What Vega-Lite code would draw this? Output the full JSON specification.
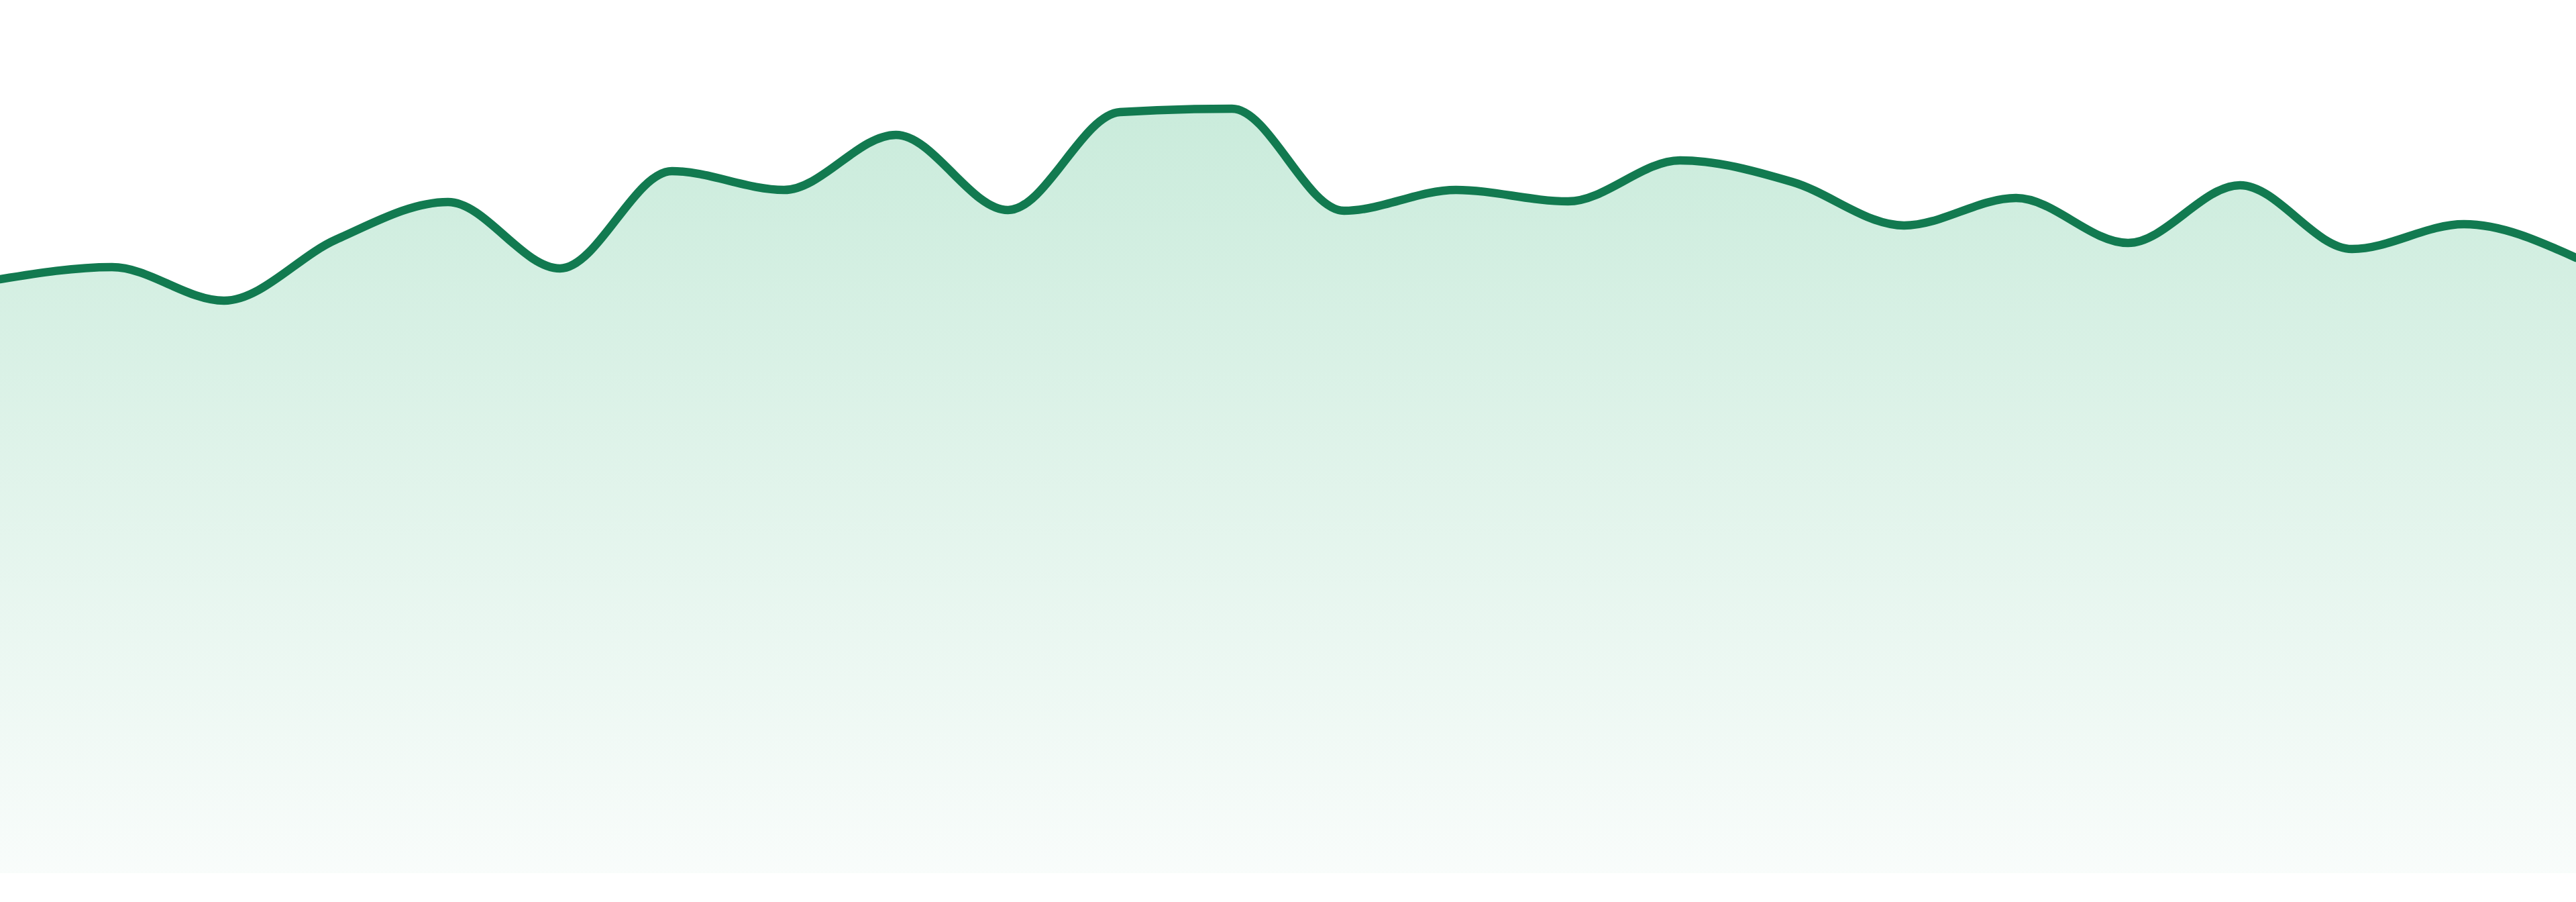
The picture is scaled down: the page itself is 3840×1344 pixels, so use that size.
{
  "$schema": "https://vega.github.io/schema/vega-lite/v6.json",
  "width": 3840,
  "height": 1344,
  "autosize": {"type": "none"},
  "padding": 0,
  "background": "white",
  "config": {"view": {"stroke": null}},
  "data": {
    "values": [
      {"i": 0, "v": 885},
      {"i": 1, "v": 903},
      {"i": 2, "v": 853},
      {"i": 3, "v": 944},
      {"i": 4, "v": 1000},
      {"i": 5, "v": 901},
      {"i": 6, "v": 1046},
      {"i": 7, "v": 1018},
      {"i": 8, "v": 1100},
      {"i": 9, "v": 988},
      {"i": 10, "v": 1134},
      {"i": 11, "v": 1139},
      {"i": 12, "v": 987},
      {"i": 13, "v": 1018},
      {"i": 14, "v": 1001},
      {"i": 15, "v": 1062},
      {"i": 16, "v": 1030},
      {"i": 17, "v": 965},
      {"i": 18, "v": 1006},
      {"i": 19, "v": 939},
      {"i": 20, "v": 1025},
      {"i": 21, "v": 930},
      {"i": 22, "v": 967},
      {"i": 23, "v": 917}
    ]
  },
  "mark": {
    "type": "area",
    "interpolate": "monotone",
    "color": {
      "gradient": "linear",
      "x1": 1, "y1": 0, "x2": 1, "y2": 1,
      "stops": [
        {"offset": 0, "color": "#b3e3cc"},
        {"offset": 1, "color": "#f6fbf9"}
      ]
    },
    "line": {"color": "#127a50", "strokeWidth": 12.5, "strokeJoin": "round", "strokeCap": "round"}
  },
  "encoding": {
    "x": {"field": "i", "type": "quantitative", "scale": {"domain": [0, 23], "nice": false, "zero": false}, "axis": null},
    "y": {"field": "v", "type": "quantitative", "scale": {"domain": [-43, 1301], "nice": false}, "axis": null}
  }
}
